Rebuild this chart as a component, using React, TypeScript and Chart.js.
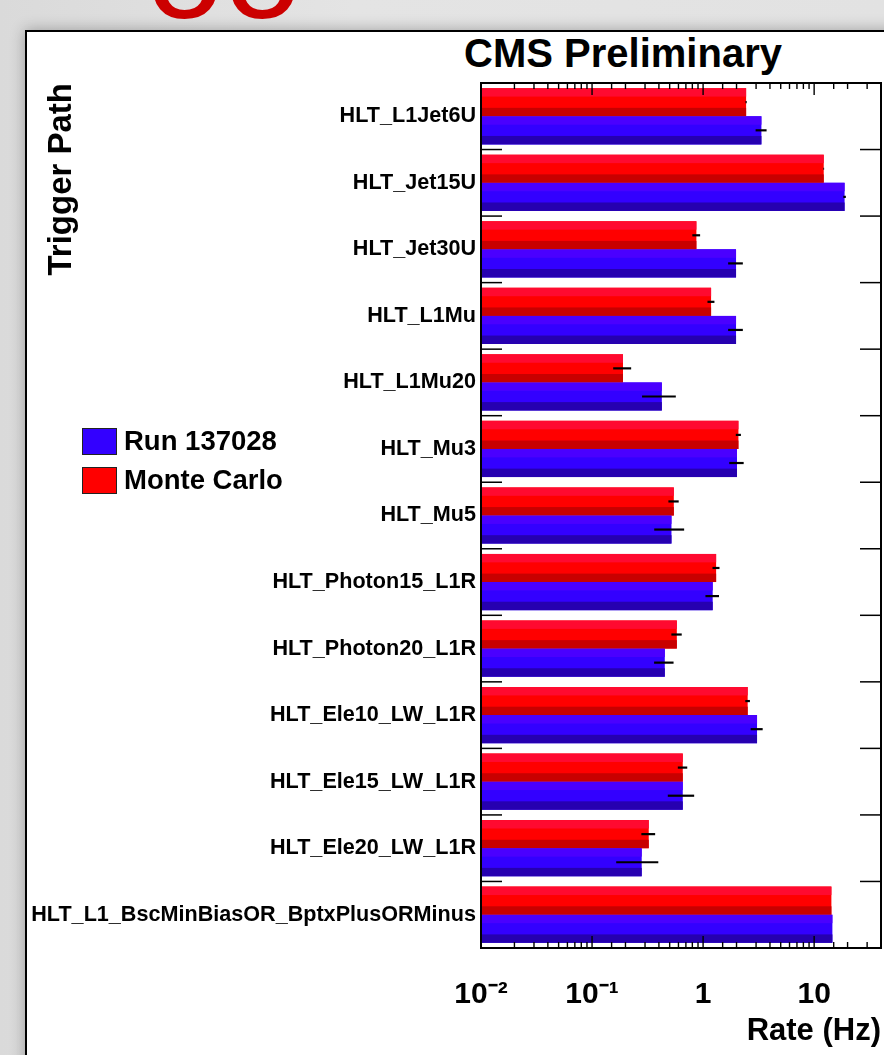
import React, { useEffect, useRef } from 'react';
import { Chart, registerables } from 'chart.js';

Chart.register(...registerables);

// ---------- data ----------
const categories = [
  'HLT_L1Jet6U',
  'HLT_Jet15U',
  'HLT_Jet30U',
  'HLT_L1Mu',
  'HLT_L1Mu20',
  'HLT_Mu3',
  'HLT_Mu5',
  'HLT_Photon15_L1R',
  'HLT_Photon20_L1R',
  'HLT_Ele10_LW_L1R',
  'HLT_Ele15_LW_L1R',
  'HLT_Ele20_LW_L1R',
  'HLT_L1_BscMinBiasOR_BptxPlusORMinus',
];
const mcRates = [2.44, 12.2, 0.87, 1.18, 0.19, 2.08, 0.545, 1.31, 0.58, 2.52, 0.656, 0.324, 14.3];
const mcErrors = [0.03, 0.1, 0.07, 0.085, 0.035, 0.11, 0.058, 0.095, 0.062, 0.12, 0.064, 0.046, 0];
const dataRates = [3.35, 18.8, 1.98, 1.98, 0.425, 2.02, 0.519, 1.22, 0.452, 3.06, 0.656, 0.28, 14.6];
const dataErrors = [0.38, 0.5, 0.3, 0.3, 0.143, 0.3, 0.156, 0.17, 0.09, 0.38, 0.175, 0.115, 0];
const xTickValues = [0.01, 0.1, 1, 10];
const xTickLabels = ['10\u207B\u00B2', '10\u207B\u00B9', '1', '10'];
const seriesNames = ['Monte Carlo', 'Run 137028'];

// ---------- styles ----------
const FONT = '"Liberation Sans", Arial, Helvetica, sans-serif';
const RED = { top: '#ff0a30', mid: '#ff0000', bot: '#c80000' };
const BLUE = { top: '#4a00ff', mid: '#3300ff', bot: '#2600b0' };
const PALETTES = [RED, BLUE];

const stripePlugin = {
  id: 'stripes',
  afterDatasetsDraw(chart: any) {
    const ctx = chart.ctx;
    ctx.save();
    chart.data.datasets.forEach((ds: any, di: number) => {
      const meta = chart.getDatasetMeta(di);
      const pal = PALETTES[di];
      meta.data.forEach((el: any) => {
        const { x, y, base, height } = el.getProps(['x', 'y', 'base', 'height'], true);
        const left = Math.min(x, base);
        const w = Math.abs(x - base);
        const top = y - height / 2;
        ctx.fillStyle = pal.top;
        ctx.fillRect(left, top, w, height * 0.3);
        ctx.fillStyle = pal.bot;
        ctx.fillRect(left, top + height * 0.7, w, height * 0.3);
      });
    });
    // error bars
    const xs = chart.scales.x;
    ctx.strokeStyle = '#000';
    ctx.lineWidth = 2.2;
    chart.data.datasets.forEach((ds: any, di: number) => {
      const meta = chart.getDatasetMeta(di);
      meta.data.forEach((el: any, i: number) => {
        const v = ds.data[i];
        const e = ds.errors[i];
        if (!e) return;
        const x1 = xs.getPixelForValue(Math.max(v - e, xs.min));
        const x2 = xs.getPixelForValue(v + e);
        ctx.beginPath();
        ctx.moveTo(x1, el.y);
        ctx.lineTo(x2, el.y);
        ctx.stroke();
      });
    });
    ctx.restore();
  },
};

const framePlugin = {
  id: 'frame',
  afterDraw(chart: any) {
    const { ctx, chartArea: a } = chart;
    const xs = chart.scales.x;
    const ys = chart.scales.y;
    ctx.save();
    ctx.strokeStyle = '#000';
    const line = (x1: number, y1: number, x2: number, y2: number) => {
      ctx.beginPath();
      ctx.moveTo(x1, y1);
      ctx.lineTo(x2, y2);
      ctx.stroke();
    };
    ctx.lineWidth = 1.4;
    xs.ticks.forEach((t: any) => {
      const px = xs.getPixelForValue(t.value);
      if (px <= a.left + 1 || px >= a.right - 1) return;
      const lg = Math.log10(t.value);
      const major = Math.abs(lg - Math.round(lg)) < 1e-6;
      const len = major ? 12 : 6;
      line(px, a.bottom, px, a.bottom - len);
      line(px, a.top, px, a.top + len);
    });
    ctx.lineWidth = 1.5;
    for (let i = 1; i < categories.length; i++) {
      const py = (ys.getPixelForValue(i - 1) + ys.getPixelForValue(i)) / 2;
      line(a.left, py, a.left + 21, py);
      line(a.right - 21, py, a.right, py);
    }
    ctx.lineWidth = 2;
    ctx.strokeRect(a.left, a.top, a.right - a.left, a.bottom - a.top);
    ctx.restore();
  },
};

export default function App() {
  const canvasRef = useRef<HTMLCanvasElement | null>(null);

  useEffect(() => {
    if (!canvasRef.current) return;
    const chart = new Chart(canvasRef.current, {
      type: 'bar',
      data: {
        labels: categories,
        datasets: [
          {
            label: seriesNames[0],
            data: mcRates,
            errors: mcErrors,
            backgroundColor: RED.mid,
            borderWidth: 0,
            categoryPercentage: 0.845,
            barPercentage: 1,
          } as any,
          {
            label: seriesNames[1],
            data: dataRates,
            errors: dataErrors,
            backgroundColor: BLUE.mid,
            borderWidth: 0,
            categoryPercentage: 0.845,
            barPercentage: 1,
          } as any,
        ],
      },
      options: {
        indexAxis: 'y',
        animation: false,
        responsive: false,
        maintainAspectRatio: false,
        layout: { padding: { top: 83, right: 3, left: 0, bottom: 0 } },
        plugins: {
          legend: { display: false },
          title: { display: false },
          tooltip: { enabled: false },
        },
        scales: {
          x: {
            type: 'logarithmic',
            position: 'bottom',
            min: 0.01,
            max: 40,
            grid: { display: false, drawTicks: false },
            border: { display: false },
            afterFit: (s: any) => {
              s.height = 107;
              s.paddingLeft = 0;
              s.paddingRight = 0;
            },
            ticks: {
              autoSkip: false,
              maxRotation: 0,
              minRotation: 0,
              padding: 29,
              color: '#000',
              font: { family: FONT, size: 30, weight: 'bold' },
              callback: (value: any) => {
                const v = Number(value);
                for (let i = 0; i < xTickValues.length; i++) {
                  if (Math.abs(v - xTickValues[i]) < xTickValues[i] * 1e-6) return xTickLabels[i];
                }
                return '';
              },
            },
            title: {
              display: true,
              text: 'Rate (Hz)',
              align: 'end',
              color: '#000',
              font: { family: FONT, size: 31, weight: 'bold' },
              padding: { top: 0, bottom: 5 },
            },
          },
          y: {
            type: 'category',
            offset: true,
            grid: { display: false, drawTicks: false },
            border: { display: false },
            afterFit: (s: any) => {
              s.width = 481;
              s.paddingTop = 0;
              s.paddingBottom = 0;
            },
            ticks: {
              autoSkip: false,
              padding: 5,
              color: '#000',
              font: { family: FONT, size: 21.6, weight: 'bold' },
            },
            title: {
              display: true,
              text: 'Trigger Path',
              align: 'end',
              color: '#000',
              font: { family: FONT, size: 33, weight: 'bold' },
              padding: { top: 42, bottom: 0 },
            },
          },
        },
      } as any,
      plugins: [stripePlugin, framePlugin],
    });
    return () => chart.destroy();
  }, []);

  return (
    <div
      style={{
        position: 'absolute',
        left: 0,
        top: 0,
        width: 884,
        height: 1055,
        overflow: 'hidden',
        background: 'linear-gradient(90deg, #dadada 0px, #e4e4e4 40%, #e2e2e2 100%)',
        fontFamily: FONT,
      }}
    >
      <div
        style={{
          position: 'absolute',
          left: 146,
          top: -100,
          fontSize: 140,
          lineHeight: '140px',
          color: '#cc0000',
          whiteSpace: 'nowrap',
        }}
      >
        oo
      </div>
      <div
        style={{
          position: 'absolute',
          left: 25,
          top: 30,
          width: 900,
          height: 1100,
          background: '#fff',
          border: '2px solid #000',
          boxSizing: 'border-box',
          boxShadow: '0 0 14px rgba(0,0,0,0.3)',
        }}
      />
      <div
        style={{
          position: 'absolute',
          left: 423,
          top: 33,
          width: 400,
          textAlign: 'center',
          fontSize: 40,
          lineHeight: '40px',
          fontWeight: 'bold',
          color: '#000',
          whiteSpace: 'nowrap',
        }}
      >
        CMS Preliminary
      </div>
      <canvas
        ref={canvasRef}
        width={884}
        height={1055}
        style={{ position: 'absolute', left: 0, top: 0, width: 884, height: 1055 }}
      />
      {[
        { name: seriesNames[1], color: BLUE.mid, top: 428 },
        { name: seriesNames[0], color: RED.mid, top: 467 },
      ].map((it) => (
        <React.Fragment key={it.name}>
          <div
            style={{
              position: 'absolute',
              left: 82,
              top: it.top,
              width: 35,
              height: 27,
              background: it.color,
              border: '1px solid #222',
              boxSizing: 'border-box',
            }}
          />
          <div
            style={{
              position: 'absolute',
              left: 124,
              top: it.top - 1,
              fontSize: 27.5,
              lineHeight: '27.5px',
              fontWeight: 'bold',
              color: '#000',
              whiteSpace: 'nowrap',
            }}
          >
            {it.name}
          </div>
        </React.Fragment>
      ))}
    </div>
  );
}
